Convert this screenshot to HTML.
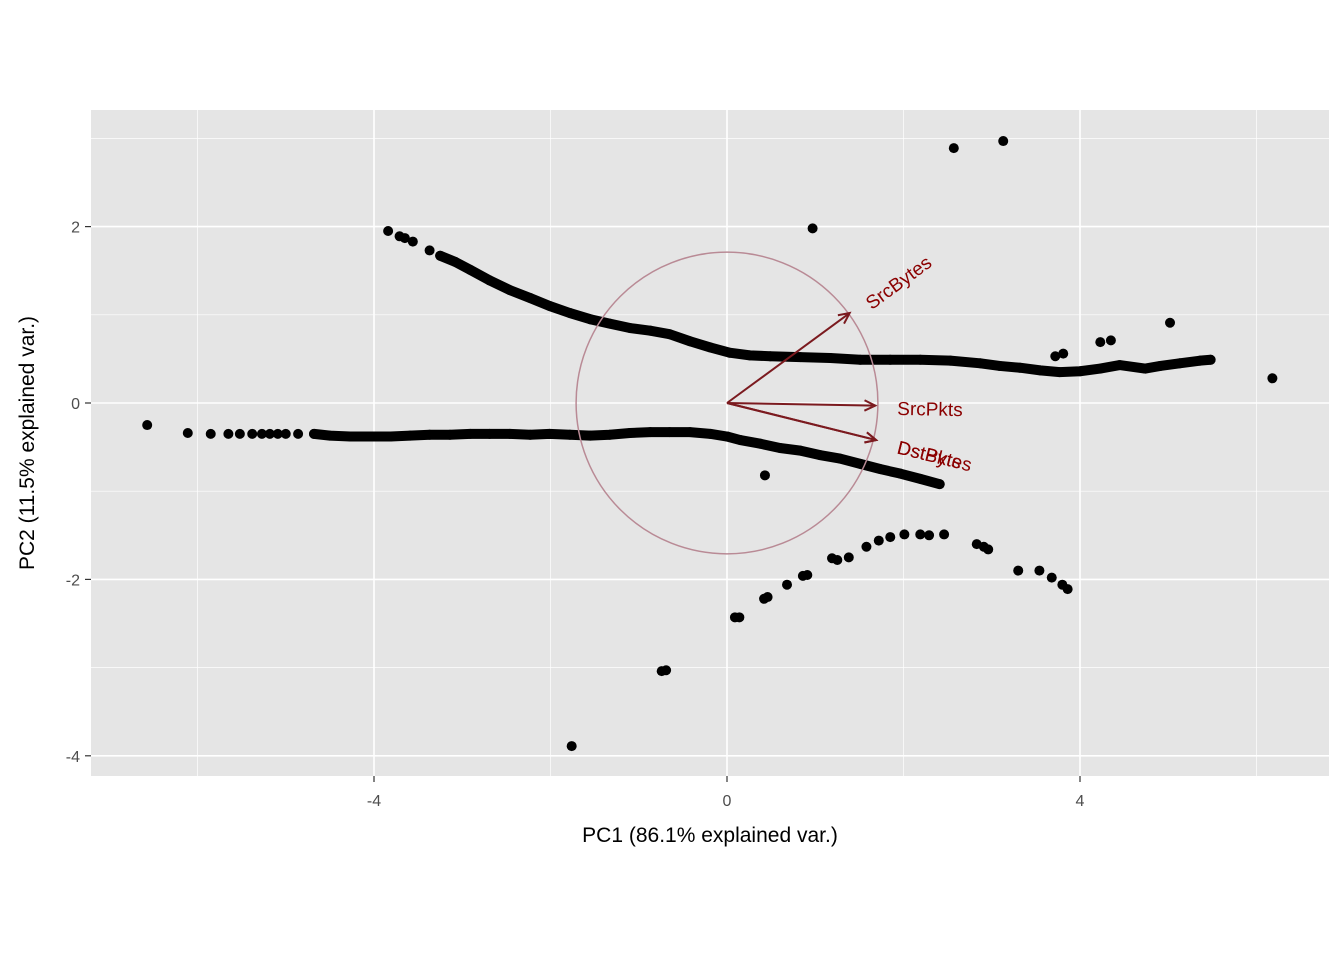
<!DOCTYPE html>
<html><head><meta charset="utf-8"><style>
body{margin:0;background:#fff}
svg text{font-family:"Liberation Sans",Arial,sans-serif}
</style></head><body>
<svg id="c" width="1344" height="960" xmlns="http://www.w3.org/2000/svg">
<rect x="0" y="0" width="1344" height="960" fill="#fff"/>
<rect x="91" y="110" width="1238" height="666" fill="#e5e5e5"/>
<g id="grid"></g>
<g id="curves"></g>
<g id="pts"></g>
<g id="vec"></g>
<g id="axes"></g>
<text x="710" y="842" font-size="21" text-anchor="middle" fill="#000">PC1 (86.1% explained var.)</text>
<text transform="translate(34,443) rotate(-90)" font-size="21" text-anchor="middle" fill="#000">PC2 (11.5% explained var.)</text>
</svg>
<script>
const xMajor=[-4,0,4];
const xMinor=[-6,-2,2,6];
const yMajor=[-4,-2,0,2];
const yMinor=[-3,-1,1,3];
const upperX=[-3.84,-3.71,-3.65,-3.56,-3.37,-3.25,-3.08,-2.91,-2.69,-2.46,-2.23,-2.01,-1.78,-1.55,-1.33,-1.10,-0.87,-0.65,-0.42,-0.19,0.03,0.26,0.49,0.83,1.17,1.51,1.85,2.19,2.53,2.87,3.09,3.32,3.55,3.77,4.00,4.23,4.45,4.74,4.91,5.13,5.36,5.48];
const upperY=[1.95,1.89,1.87,1.83,1.73,1.67,1.60,1.51,1.39,1.28,1.19,1.10,1.02,0.95,0.90,0.85,0.82,0.78,0.70,0.63,0.57,0.54,0.53,0.52,0.51,0.49,0.49,0.49,0.48,0.45,0.42,0.40,0.37,0.35,0.36,0.39,0.43,0.39,0.42,0.45,0.48,0.49];
const lowerX=[-6.57,-6.11,-5.85,-5.65,-5.52,-5.38,-5.27,-5.18,-5.09,-5.00,-4.86,-4.68,-4.50,-4.27,-4.04,-3.81,-3.59,-3.37,-3.14,-2.91,-2.69,-2.46,-2.23,-2.01,-1.78,-1.55,-1.33,-1.10,-0.87,-0.65,-0.42,-0.19,0,0.15,0.37,0.60,0.83,1.05,1.28,1.51,1.74,1.96,2.19,2.41];
const lowerY=[-0.25,-0.34,-0.35,-0.35,-0.35,-0.35,-0.35,-0.35,-0.35,-0.35,-0.35,-0.35,-0.37,-0.38,-0.38,-0.38,-0.37,-0.36,-0.36,-0.35,-0.35,-0.35,-0.36,-0.35,-0.36,-0.37,-0.36,-0.34,-0.33,-0.33,-0.33,-0.35,-0.38,-0.42,-0.46,-0.51,-0.54,-0.59,-0.63,-0.69,-0.75,-0.80,-0.86,-0.92];
const denseFromUpper=5, denseFromLower=11;
const otherX=[0.97,2.57,3.13,0.43,5.02,4.23,4.35,3.72,3.81,6.18,-1.76,-0.74,-0.69,0.09,0.14,0.42,0.46,0.68,0.86,0.91,1.19,1.25,1.38,1.58,1.72,1.85,2.01,2.19,2.29,2.46,2.83,2.91,2.96,3.30,3.54,3.68,3.80,3.86];
const otherY=[1.98,2.89,2.97,-0.82,0.91,0.69,0.71,0.53,0.56,0.28,-3.89,-3.04,-3.03,-2.43,-2.43,-2.22,-2.20,-2.06,-1.96,-1.95,-1.76,-1.78,-1.75,-1.63,-1.56,-1.52,-1.49,-1.49,-1.50,-1.49,-1.60,-1.63,-1.66,-1.90,-1.90,-1.98,-2.06,-2.11];
const vecNames=["SrcBytes","SrcPkts","DstBytes","DstPkts"];
const vecX=[1.39,1.68,1.69,1.69];
const vecY=[1.02,-0.03,-0.42,-0.42];
const circleR=1.71;

const X=v=>727+v*88.25, Y=v=>403-v*88.2;
const NS="http://www.w3.org/2000/svg";
function mk(tag,attrs,parent){const e=document.createElementNS(NS,tag);for(const k in attrs)e.setAttribute(k,attrs[k]);parent.appendChild(e);return e;}
const grid=document.getElementById('grid');
xMinor.forEach(v=>{const l=mk('line',{x1:X(v),x2:X(v),y1:110,y2:776,stroke:'#fff','stroke-width':0.7},grid);

});
yMinor.forEach(v=>{const l=mk('line',{x1:91,x2:1329,y1:Y(v),y2:Y(v),stroke:'#fff','stroke-width':0.7},grid);

});
const axes=document.getElementById('axes');
xMajor.forEach(v=>{const l=mk('line',{x1:X(v),x2:X(v),y1:110,y2:776,stroke:'#fff','stroke-width':1.6},grid);


const t=mk('line',{x1:X(v),x2:X(v),y1:776,y2:782,stroke:'#333','stroke-width':1.2},axes);


const tx=mk('text',{x:X(v),y:806,'font-size':16,'text-anchor':'middle',fill:'#4d4d4d'},axes);tx.textContent=v;

});
yMajor.forEach(v=>{const l=mk('line',{x1:91,x2:1329,y1:Y(v),y2:Y(v),stroke:'#fff','stroke-width':1.6},grid);


const t=mk('line',{x1:85,x2:91,y1:Y(v),y2:Y(v),stroke:'#333','stroke-width':1.2},axes);


const tx=mk('text',{x:80,y:Y(v)+6,'font-size':16,'text-anchor':'end',fill:'#4d4d4d'},axes);tx.textContent=v;

});
const curves=document.getElementById('curves');
function poly(xs,ys,from,name){let d='';for(let i=from;i<xs.length;i++)d+=(i==from?'M':'L')+X(xs[i])+','+Y(ys[i]);
const p=mk('path',{d:d,fill:'none',stroke:'#000','stroke-width':10,'stroke-linejoin':'round','stroke-linecap':'round'},curves);

}
poly(upperX,upperY,denseFromUpper,'upper-curve');
poly(lowerX,lowerY,denseFromLower,'lower-curve');
const pts=document.getElementById('pts');
function dots(xs,ys){xs.forEach((v,i)=>{const c=mk('circle',{cx:X(v),cy:Y(ys[i]),r:5,fill:'#000'},pts);

});}
dots(upperX,upperY);dots(lowerX,lowerY);dots(otherX,otherY);
const vec=document.getElementById('vec');
const circ=mk('ellipse',{cx:X(0),cy:Y(0),rx:circleR*88.25,ry:circleR*88.2,fill:'none',stroke:'#b98a95','stroke-width':1.5},vec);


vecNames.forEach((n,i)=>{const x2=X(vecX[i]),y2=Y(vecY[i]),x1=X(0),y1=Y(0);
const a=Math.atan2(y2-y1,x2-x1);
let d=`M${x1},${y1}L${x2},${y2}M${x2-12*Math.cos(a-0.45)},${y2-12*Math.sin(a-0.45)}L${x2},${y2}L${x2-12*Math.cos(a+0.45)},${y2-12*Math.sin(a+0.45)}`;
const p=mk('path',{d:d,fill:'none',stroke:'#7b1a1f','stroke-width':2},vec);


const deg=a*180/Math.PI;
const lx=x2+18*Math.cos(a)+4,ly=y2+18*Math.sin(a)+9;
const t=mk('text',{x:lx,y:ly,'font-size':19,fill:'#8b0000',transform:`rotate(${deg} ${lx} ${ly-6})`},vec);t.textContent=n;

});
</script>
</body></html>
